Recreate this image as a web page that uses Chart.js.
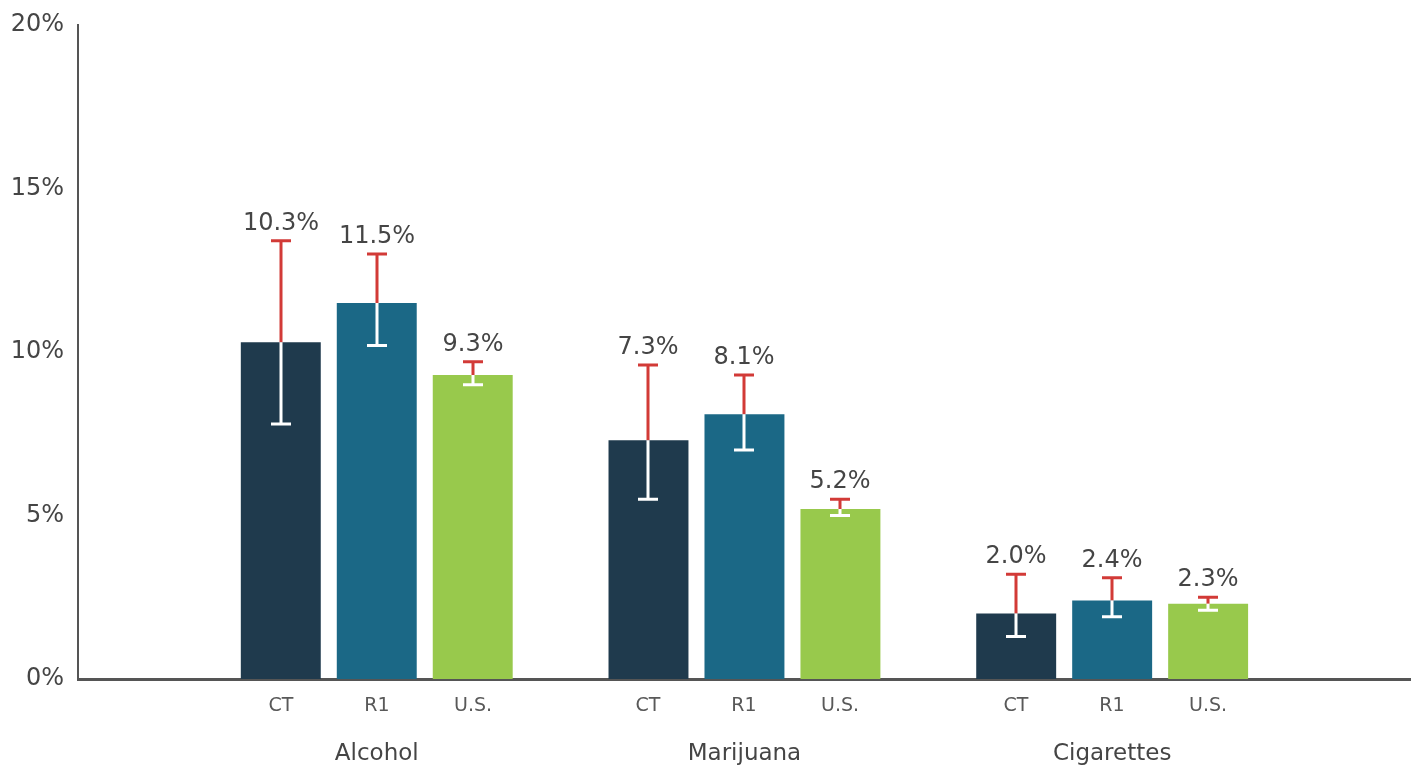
<!DOCTYPE html>
<html>
<head>
<meta charset="utf-8">
<script src="https://cdn.jsdelivr.net/npm/chart.js@4/dist/chart.umd.min.js"></script>
<style>
  html, body { margin: 0; padding: 0; background: #fff; }
  #wrap { width: 1416px; height: 768px; position: relative; }
</style>
</head>
<body>
<div id="wrap"><canvas id="chart"></canvas></div>
<script>
const groups = ['Alcohol', 'Marijuana', 'Cigarettes'];
const seriesNames = ['CT', 'R1', 'U.S.'];

const ctValues = [10.3, 7.3, 2.0];
const r1Values = [11.5, 8.1, 2.4];
const usValues = [9.3, 5.2, 2.3];

// confidence interval bounds
const ctLow = [7.8, 5.5, 1.3];
const ctHigh = [13.4, 9.6, 3.2];
const r1Low = [10.2, 7.0, 1.9];
const r1High = [13.0, 9.3, 3.1];
const usLow = [9.0, 5.0, 2.1];
const usHigh = [9.7, 5.5, 2.5];

const yTicks = [0, 5, 10, 15, 20];

const colors = ['#1f3a4d', '#1b6886', '#98c94c'];
const textColor = '#454545';
const font = 'DejaVu Sans';

const allValues = [ctValues, r1Values, usValues];
const allLow = [ctLow, r1Low, usLow];
const allHigh = [ctHigh, r1High, usHigh];

const datasets = seriesNames.map((name, s) => ({
  label: name,
  data: groups.map((g, i) => ({ x: i, y: allValues[s][i] })),
  low: allLow[s],
  high: allHigh[s],
  backgroundColor: colors[s],
  borderWidth: 0,
  categoryPercentage: 0.783,
  barPercentage: 0.833
}));

const errorBars = {
  id: 'errorBars',
  afterDatasetsDraw(chart) {
    const ctx = chart.ctx;
    const y = chart.scales.y;
    const xAxis = chart.scales.x;
    ctx.save();
    chart.data.datasets.forEach((ds, di) => {
      const meta = chart.getDatasetMeta(di);
      meta.data.forEach((bar, i) => {
        const cx = Math.round(bar.x);
        const top = y.getPixelForValue(ds.data[i].y);
        const hi = y.getPixelForValue(ds.high[i]);
        const lo = y.getPixelForValue(ds.low[i]);
        ctx.lineWidth = 3;
        // upper part (red)
        ctx.strokeStyle = '#d23a37';
        ctx.beginPath();
        ctx.moveTo(cx, top); ctx.lineTo(cx, hi);
        ctx.moveTo(cx - 10, hi); ctx.lineTo(cx + 10, hi);
        ctx.stroke();
        // lower part (white)
        ctx.strokeStyle = '#ffffff';
        ctx.beginPath();
        ctx.moveTo(cx, top); ctx.lineTo(cx, lo);
        ctx.moveTo(cx - 10, lo); ctx.lineTo(cx + 10, lo);
        ctx.stroke();
        // value label
        ctx.fillStyle = textColor;
        ctx.font = '24px "' + font + '"';
        ctx.textAlign = 'center';
        ctx.textBaseline = 'alphabetic';
        ctx.fillText(ds.data[i].y.toFixed(1) + '%', cx, hi - 11);
        // series label under the axis
        ctx.font = '19px "' + font + '"';
        ctx.fillStyle = '#595959';
        ctx.textBaseline = 'middle';
        ctx.fillText(ds.label, cx, xAxis.top + 27);
      });
    });
    ctx.restore();
  }
};

new Chart(document.getElementById('chart'), {
  type: 'bar',
  data: { datasets },
  plugins: [errorBars],
  options: {
    responsive: true,
    maintainAspectRatio: false,
    animation: false,
    layout: { padding: { top: 25, right: 6, bottom: 0, left: 0 } },
    plugins: {
      legend: { display: false },
      tooltip: { enabled: false }
    },
    scales: {
      x: {
        type: 'linear',
        offset: false,
        min: -0.8125,
        max: 2.81,
        grid: { display: false },
        border: { display: true, color: '#555555', width: 3 },
        afterBuildTicks: (scale) => { scale.ticks = groups.map((g, i) => ({ value: i })); },
        afterFit: (scale) => { scale.height = 89; },
        ticks: {
          autoSkip: false,
          maxRotation: 0,
          padding: 53,
          color: textColor,
          font: { family: font, size: 23 },
          callback: (v) => groups[v] ?? ''
        }
      },
      y: {
        min: 0,
        max: 20,
        grid: { display: false },
        border: { display: true, color: '#555555', width: 2 },
        afterBuildTicks: (scale) => { scale.ticks = yTicks.map(v => ({ value: v })); },
        afterFit: (scale) => { scale.width = 78; scale.paddingTop = 0; },
        ticks: {
          padding: 6,
          color: textColor,
          font: { family: font, size: 24 },
          callback: (v) => v + '%'
        }
      }
    }
  }
});
</script>
</body>
</html>
